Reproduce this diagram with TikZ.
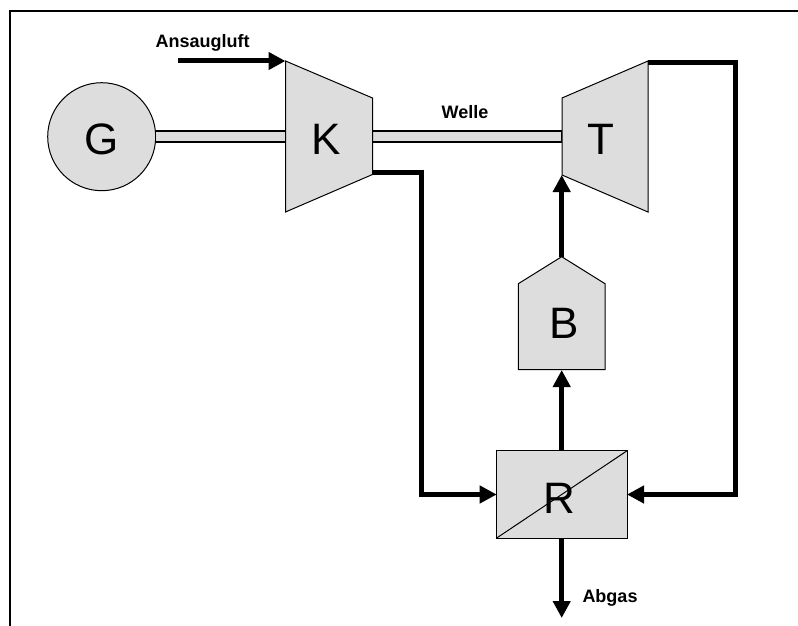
\documentclass[tikz,border=0pt]{standalone}
\usepackage{fontspec}
\setmainfont{Liberation Sans}
\usetikzlibrary{arrows.meta}
\definecolor{unitfill}{RGB}{221,221,221}
\tikzset{
  unit/.style={draw=black,fill=unitfill,line width=1pt,line join=miter},
  letter/.style={font=\fontsize{44}{44}\selectfont,inner sep=0pt,text=black},
  lab/.style={font=\fontsize{18}{18}\selectfont\bfseries,inner sep=0pt,text=black},
  flow/.style={line width=5pt,line join=miter,-{Triangle[length=17pt,width=17pt]}},
  flowplain/.style={line width=5pt,line join=miter},
  shaft/.style={draw=black,fill=unitfill,line width=1.2pt}
}
\begin{document}
\begin{tikzpicture}[x=1pt,y=-1pt]
\useasboundingbox (0,0) rectangle (798,626);
% frame
\draw[line width=2pt,line cap=butt] (9.5,626) -- (9.5,11) -- (798,11);
% coordinates
\coordinate (K1) at (285.5,61);
\coordinate (K2) at (372.5,98);
\coordinate (K3) at (372.5,174.5);
\coordinate (K4) at (285.5,212);
\coordinate (T1) at (562,98);
\coordinate (T2) at (648,61);
\coordinate (T3) at (648,212);
\coordinate (T4) at (562,175);
\coordinate (Bapex) at (561.7,256.7);
\coordinate (Bl) at (518.3,283.7);
\coordinate (Br) at (605,283.7);
\coordinate (Bbl) at (518.3,369.7);
\coordinate (Bbr) at (605,369.7);
\coordinate (Bb) at (561.7,370);
\coordinate (Rtl) at (496.7,450.8);
\coordinate (Rbr) at (627,538);
\coordinate (Rtr) at (627,450.8);
\coordinate (Rbl) at (496.7,538);
\coordinate (Rt) at (561.7,450.8);
\coordinate (Rb) at (561.7,538);
\coordinate (Rw) at (496.7,494.5);
\coordinate (Re) at (627,494.5);
\coordinate (Tin) at (561.7,175);
\coordinate (Kout) at (372.5,172.5);
\coordinate (Tout) at (648,63);
\coordinate (KneeA) at (421,172.5);
\coordinate (KneeB) at (421,494.5);
\coordinate (KneeC) at (735,63);
\coordinate (KneeD) at (735,494.5);
\coordinate (Airstart) at (178,61);
\coordinate (Exit) at (561.7,618);
% shafts
\node[circle,draw=black,fill=unitfill,line width=1pt,minimum size=108pt,inner sep=0pt] (G) at (101.7,136.7) {};
\path[shaft] (155.5,131) rectangle (285.5,142);
\path[shaft] (372.5,131) rectangle (562,142);
% machines
\path[unit] (K1) -- (K2) -- (K3) -- (K4) -- cycle;
\path[unit] (T1) -- (T2) -- (T3) -- (T4) -- cycle;
\path[unit] (Bapex) -- (Br) -- (Bbr) -- (Bbl) -- (Bl) -- cycle;
\path[unit] (Rtl) rectangle (Rbr);
% letters
\node[letter] (Gt) at (101.5,139) {G};
\node[letter] (Kt) at (326,139.5) {K};
\node[letter] (Tt) at (600.5,139.5) {T};
\node[letter] (Bt) at (564,323.5) {B};
\node[letter] (Rt2) at (559.5,498) {R};
\draw[line width=1pt] (Rbl) -- (Rtr);
% connectors
\draw[flow] (Airstart) -- (K1);
\draw[flow] (Kout) -- (KneeA) -- (KneeB) -- (Rw);
\draw[flow] (Tout) -- (KneeC) -- (KneeD) -- (Re);
\draw[flow] (Rt) -- (Bb);
\draw[flow] (Bapex) -- (Tin);
\draw[flow] (Rb) -- (Exit);
% labels
\node[lab,anchor=base] (Lair) at (202.5,48) {Ansaugluft};
\node[lab,anchor=base] (Lwelle) at (465,118) {Welle};
\node[lab,anchor=base] (Labg) at (610,602) {Abgas};
\end{tikzpicture}
\end{document}
